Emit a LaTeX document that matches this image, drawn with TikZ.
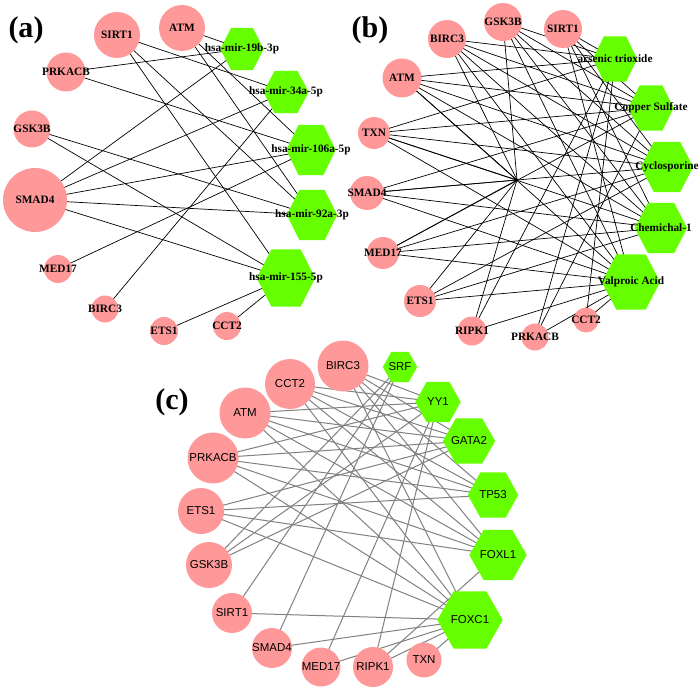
\documentclass[tikz,border=0pt]{standalone}
\usepackage{fontspec}
\setmainfont{Liberation Serif}
\newfontfamily\arialfam{Liberation Sans}
\usetikzlibrary{calc}
\definecolor{pinkc}{RGB}{255,153,153}
\definecolor{greenc}{RGB}{102,255,0}
\definecolor{edgegray}{RGB}{128,128,128}
\pgfdeclarelayer{edgelayer}
\pgfdeclarelayer{hexlayer}
\pgfsetlayers{edgelayer,hexlayer,main}
\newcommand\myhexfill[1]{\fill[greenc] (#1.west) -- ($(#1.north west)!0.25!(#1.north east)$) -- ($(#1.north west)!0.75!(#1.north east)$) -- (#1.east) -- ($(#1.south west)!0.75!(#1.south east)$) -- ($(#1.south west)!0.25!(#1.south east)$) -- cycle;}
\begin{document}
\begin{tikzpicture}[x=1pt,y=-1pt,
  labA/.style={font=\fontsize{11.3}{12}\selectfont\bfseries, inner sep=0pt, text=black},
  labC/.style={font=\arialfam\fontsize{11.5}{13}\selectfont, inner sep=0pt, text=black},
  gA/.style 2 args={circle, fill=pinkc, inner sep=0pt, minimum size=#1, label={[labA]center:#2}},
  gC/.style 2 args={circle, fill=pinkc, inner sep=0pt, minimum size=#1, label={[labC]center:#2}},
  hA/.style n args={3}{rectangle, inner sep=0pt, minimum width=#1, minimum height=#2, label={[labA]center:#3}},
  hC/.style n args={3}{rectangle, inner sep=0pt, minimum width=#1, minimum height=#2, label={[labC]center:#3}},
  edA/.style={black, line width=0.7pt},
  edC/.style={edgegray, line width=1pt},
  plab/.style={font=\fontsize{30}{32}\selectfont\bfseries, inner sep=0pt}]
\path[use as bounding box] (0,0) rectangle (700,690);

% ---------- panel (a)
\node[plab] (la) at (26,30) {(a)};
\node[gA={46}{SIRT1}] (aSIRT1) at (117,35) {};
\node[gA={46}{ATM}] (aATM) at (182,28) {};
\node[gA={39}{PRKACB}] (aPRKACB) at (66,72) {};
\node[gA={37}{GSK3B}] (aGSK3B) at (32,129) {};
\node[gA={64}{SMAD4}] (aSMAD4) at (35,200) {};
\node[gA={28}{MED17}] (aMED17) at (58,269) {};
\node[gA={27}{BIRC3}] (aBIRC3) at (105,309) {};
\node[gA={28}{ETS1}] (aETS1) at (164,331) {};
\node[gA={28}{CCT2}] (aCCT2) at (227,326) {};
\node[hA={43}{42}{hsa-mir-19b-3p}] (am19) at (242,49) {};
\node[hA={45}{42}{hsa-mir-34a-5p}] (am34) at (286,92) {};
\node[hA={49}{50}{hsa-mir-106a-5p}] (am106) at (311,150) {};
\node[hA={50}{50}{hsa-mir-92a-3p}] (am92) at (312,215) {};
\node[hA={58}{57}{hsa-mir-155-5p}] (am155) at (286,278) {};

% ---------- panel (b)
\node[plab] (lb) at (370,30) {(b)};
\node[gA={38}{GSK3B}] (bGSK3B) at (503,22) {};
\node[gA={38}{SIRT1}] (bSIRT1) at (563,29) {};
\node[gA={38}{BIRC3}] (bBIRC3) at (447,39) {};
\node[gA={39}{ATM}] (bATM) at (402,78) {};
\node[gA={32}{TXN}] (bTXN) at (374,133) {};
\node[gA={34}{SMAD4}] (bSMAD4) at (367,193) {};
\node[gA={32}{MED17}] (bMED17) at (383,253) {};
\node[gA={32}{ETS1}] (bETS1) at (420,301) {};
\node[gA={29}{RIPK1}] (bRIPK1) at (472,331) {};
\node[gA={27}{PRKACB}] (bPRKACB) at (535,337) {};
\node[gA={25}{CCT2}] (bCCT2) at (586,320) {};
\node[circle, fill=black, inner sep=0pt, minimum size=3] (bDot) at (517,180) {};
\node[hA={44}{45}{arsenic trioxide}] (bArs) at (615,59) {};
\node[hA={45}{45}{Copper Sulfate}] (bCop) at (651,108) {};
\node[hA={52}{50}{Cyclosporine}] (bCyc) at (667,167) {};
\node[hA={52}{50}{Chemichal-1}] (bChe) at (661,228) {};
\node[hA={58}{55}{Valproic Acid}] (bVal) at (631,282) {};

% ---------- panel (c)
\node[plab] (lc) at (172,402) {(c)};
\node[gC={51}{BIRC3}] (cBIRC3) at (343,366) {};
\node[gC={50}{CCT2}] (cCCT2) at (290,384) {};
\node[gC={51}{ATM}] (cATM) at (245,413) {};
\node[gC={51}{PRKACB}] (cPRKACB) at (213,458) {};
\node[gC={46}{ETS1}] (cETS1) at (201,511) {};
\node[gC={46}{GSK3B}] (cGSK3B) at (209,565) {};
\node[gC={40}{SIRT1}] (cSIRT1) at (232,613) {};
\node[gC={40}{SMAD4}] (cSMAD4) at (272,648) {};
\node[gC={39}{MED17}] (cMED17) at (321,667) {};
\node[gC={40}{RIPK1}] (cRIPK1) at (373,667) {};
\node[gC={35}{TXN}] (cTXN) at (424,660) {};
\node[hC={34}{30}{SRF}] (cSRF) at (400,367) {};
\node[hC={45}{40}{YY1}] (cYY1) at (438,402) {};
\node[hC={52}{45}{GATA2}] (cGATA2) at (469,441) {};
\node[hC={50}{45}{TP53}] (cTP53) at (493,495) {};
\node[hC={57}{50}{FOXL1}] (cFOXL1) at (498,555) {};
\node[hC={65}{57}{FOXC1}] (cFOXC1) at (470,620) {};

% ---------- hexagon fills
\begin{pgfonlayer}{hexlayer}
\foreach \h in {am19,am34,am106,am92,am155,bArs,bCop,bCyc,bChe,bVal,cSRF,cYY1,cGATA2,cTP53,cFOXL1,cFOXC1}{\myhexfill{\h}}
\end{pgfonlayer}

% ---------- edges
\begin{pgfonlayer}{edgelayer}
\foreach \g/\m in {ATM/m19,ATM/m106,ATM/m92,SIRT1/m34,SIRT1/m92,SIRT1/m155,PRKACB/m19,PRKACB/m106,GSK3B/m92,GSK3B/m155,SMAD4/m19,SMAD4/m34,SMAD4/m106,SMAD4/m92,SMAD4/m155,MED17/m106,BIRC3/m34,ETS1/m155,CCT2/m155}
  {\draw[edA] (a\g.center) -- (a\m.center);}
\foreach \g/\m in {BIRC3/Ars,BIRC3/Cop,BIRC3/Cyc,BIRC3/Che,BIRC3/Val,BIRC3/Dot,
  GSK3B/Ars,GSK3B/Cop,GSK3B/Cyc,GSK3B/Che,GSK3B/Val,GSK3B/Dot,
  SIRT1/Ars,SIRT1/Cop,SIRT1/Cyc,SIRT1/Che,SIRT1/Val,
  ATM/Ars,ATM/Cop,ATM/Cyc,ATM/Che,ATM/Val,ATM/Dot,
  TXN/Ars,TXN/Cop,TXN/Cyc,TXN/Che,TXN/Val,TXN/Dot,
  SMAD4/Cop,SMAD4/Cyc,SMAD4/Che,SMAD4/Val,SMAD4/Dot,
  MED17/Cop,MED17/Cyc,MED17/Che,MED17/Val,MED17/Dot,
  ETS1/Cyc,ETS1/Che,ETS1/Val,ETS1/Dot,
  RIPK1/Ars,RIPK1/Val,RIPK1/Dot,
  PRKACB/Ars,PRKACB/Cop,PRKACB/Val,
  CCT2/Ars,CCT2/Val}
  {\draw[edA] (b\g.center) -- (b\m.center);}
\foreach \g/\m in {BIRC3/YY1,BIRC3/GATA2,BIRC3/TP53,BIRC3/FOXL1,BIRC3/FOXC1,
  CCT2/YY1,CCT2/GATA2,CCT2/TP53,CCT2/FOXL1,CCT2/FOXC1,
  ATM/YY1,ATM/GATA2,ATM/TP53,ATM/FOXL1,ATM/FOXC1,
  PRKACB/YY1,PRKACB/GATA2,PRKACB/TP53,PRKACB/FOXL1,PRKACB/FOXC1,
  ETS1/GATA2,ETS1/TP53,ETS1/FOXL1,ETS1/FOXC1,
  GSK3B/SRF,GSK3B/YY1,GSK3B/GATA2,
  SIRT1/SRF,SIRT1/FOXC1,
  SMAD4/SRF,SMAD4/FOXC1,
  MED17/YY1,MED17/FOXC1,
  RIPK1/YY1,RIPK1/FOXL1,RIPK1/FOXC1,
  TXN/FOXC1}
  {\draw[edC] (c\g.center) -- (c\m.center);}
\end{pgfonlayer}
\end{tikzpicture}
\end{document}
